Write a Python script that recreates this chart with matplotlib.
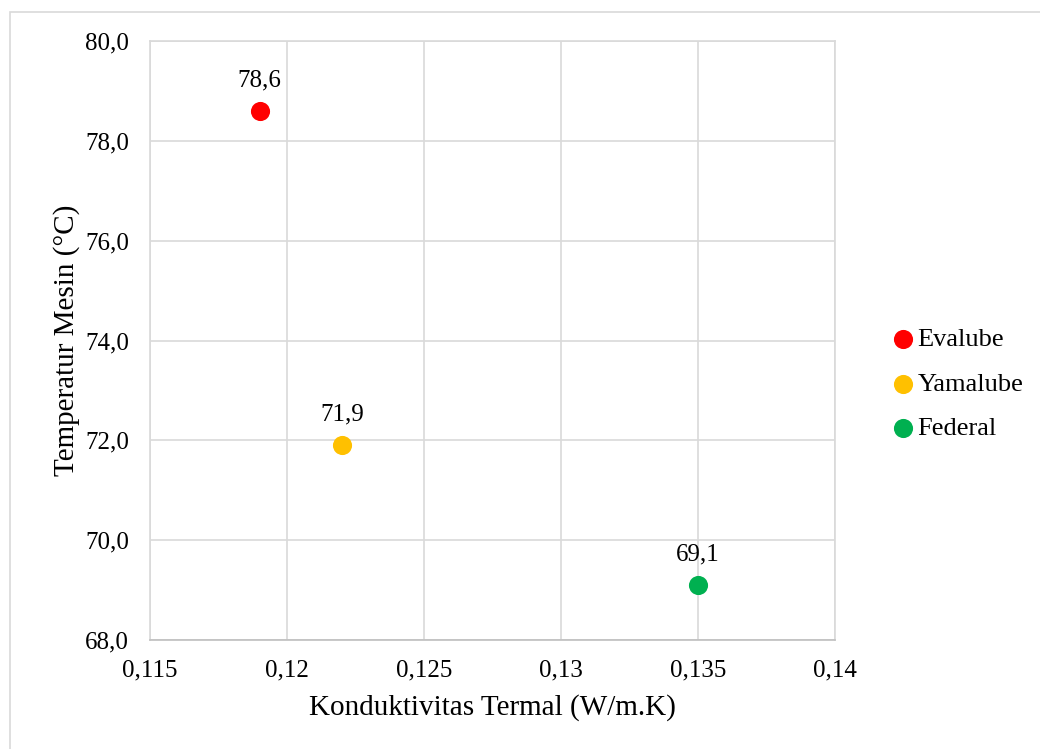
import matplotlib.pyplot as plt
from matplotlib.patches import Rectangle

# Oil samples: thermal conductivity vs engine temperature
names = ['Evalube', 'Yamalube', 'Federal']
konduktivitas = [0.119, 0.122, 0.135]
temperatur = [78.6, 71.9, 69.1]
colors = ['#FF0000', '#FFC000', '#00B050']

xticks = [0.115, 0.12, 0.125, 0.13, 0.135, 0.14]
xtick_labels = ['0,115', '0,12', '0,125', '0,13', '0,135', '0,14']
yticks = [68, 70, 72, 74, 76, 78, 80]
ytick_labels = ['68,0', '70,0', '72,0', '74,0', '76,0', '78,0', '80,0']

GRID = '#d9d9d9'
plt.rcParams['font.family'] = ['Liberation Serif', 'DejaVu Serif']

fig = plt.figure(figsize=(10.4, 7.49), dpi=100)
ax = fig.add_axes([0.1442, 0.1455, 0.6587, 0.7997])

# chart border
fig.patches.append(Rectangle((10 / 1040, -0.05), 1.1, 1 - 12 / 749 + 0.05,
                             transform=fig.transFigure, fill=False,
                             edgecolor=GRID, lw=1.2))

for name, x, y, c in zip(names, konduktivitas, temperatur, colors):
    ax.scatter(x, y, s=190, color=c, label=name, zorder=3, linewidths=0)
    ax.annotate(f'{y:.1f}'.replace('.', ','), (x, y), xytext=(0, 14),
                textcoords='offset points', ha='center', va='bottom', fontsize=18)

ax.set_xlim(0.115, 0.14)
ax.set_ylim(68, 80)
ax.set_xticks(xticks)
ax.set_xticklabels(xtick_labels)
ax.set_yticks(yticks)
ax.set_yticklabels(ytick_labels)
ax.tick_params(length=0, labelsize=18, colors='black')
ax.tick_params(axis='y', pad=15)
ax.tick_params(axis='x', pad=14)
ax.grid(True, color=GRID, lw=1.2)
ax.set_axisbelow(True)
for spine in ax.spines.values():
    spine.set_color(GRID)
    spine.set_linewidth(1.2)
ax.spines['bottom'].set_color('#bfbfbf')

ax.set_xlabel('Konduktivitas Termal (W/m.K)', fontsize=21, labelpad=9)
ax.set_ylabel('Temperatur Mesin (°C)', fontsize=21, labelpad=4)

fig.legend(loc='center left', bbox_to_anchor=(891 / 1040, 1 - 384 / 749),
           frameon=False, fontsize=19, handlelength=0.9, handletextpad=0.1,
           labelspacing=0.8, markerscale=1.0, borderaxespad=0, borderpad=0)

plt.savefig('out.png', dpi=100)
